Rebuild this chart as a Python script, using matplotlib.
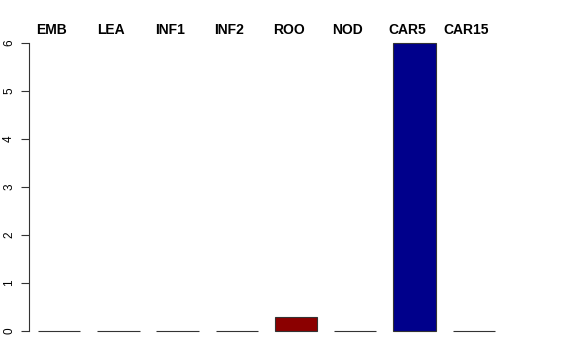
import matplotlib.pyplot as plt
import matplotlib.transforms as mtransforms
import numpy as np

categories = ["EMB", "LEA", "INF1", "INF2", "ROO", "NOD", "CAR5", "CAR15"]
values = [0, 0, 0, 0, 0.3, 0, 6.0, 0]
bar_colors = ["#808080", "#808080", "#808080", "#808080",
              "#8B0000", "#808080", "#00008B", "#808080"]
y_ticks = [0, 1, 2, 3, 4, 5, 6]

plt.rcParams["font.family"] = ["Liberation Sans", "DejaVu Sans"]

fig = plt.figure(figsize=(5.76, 3.6), dpi=100)
ax = fig.add_axes([29 / 576, 17.5 / 360, (522 - 29) / 576, 311 / 360])

# R barplot layout: width 1, space 0.4 -> centres at 0.7, 2.1, ...
x = 0.7 + 1.4 * np.arange(len(categories))
ax.bar(x, values, width=1.0, color=bar_colors, edgecolor="#333333", linewidth=0.8)

ax.set_xlim(-0.013, 11.64)
ax.set_ylim(-0.24, 6.24)

# names sit a little left of the bar centres, as in the original
label_tr = mtransforms.offset_copy(ax.transData, fig=fig, x=-7.5, y=0, units="dots")
for xi, name in zip(x, categories):
    ax.text(xi, 6.28, name, ha="center", va="center", fontsize=10,
            fontweight="bold", clip_on=False, transform=label_tr)

for side in ["top", "right", "bottom"]:
    ax.spines[side].set_visible(False)
ax.spines["left"].set_bounds(0, 6)
ax.spines["left"].set_color("#333333")
ax.spines["left"].set_linewidth(0.8)

ax.set_xticks([])
ax.set_yticks(y_ticks)
ax.set_yticklabels([str(t) for t in y_ticks], rotation=90, va="center", fontsize=8.5)
ax.tick_params(axis="y", length=6, width=0.8, color="#333333", pad=4)

fig.savefig("out.png", dpi=100, facecolor="white")
